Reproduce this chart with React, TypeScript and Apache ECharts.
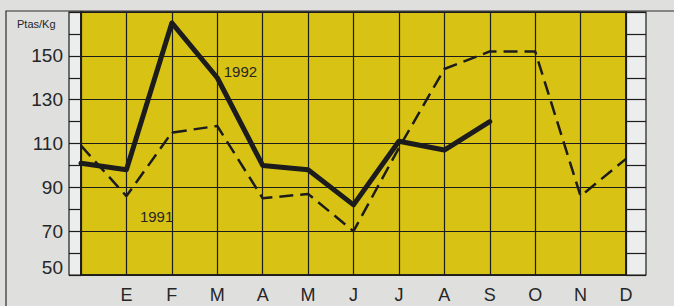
import React, { useEffect, useRef } from "react";
import * as echarts from "echarts";

// Categories: a leading blank slot (left edge), then months E..D
const months = ["", "E", "F", "M", "A", "M", "J", "J", "A", "S", "O", "N", "D"];
const series1992 = [101, 98, 165, 140, 100, 98, 82, 111, 107, 120, null, null, null];
const series1991 = [109, 86, 115, 118, 85, 87, 70, 108, 144, 152, 152, 86, 103];
const yTicks = { min: 50, max: 170, step: 20 };
const unitLabel = "Ptas/Kg";

const INK = "#1c1c1c";
const TEXT = "#262626";
const FONT = "Liberation Sans, Arial, Helvetica, sans-serif";

export default function App() {
  const ref = useRef<HTMLDivElement>(null);
  useEffect(() => {
    document.body.style.margin = "0";
    const chart = echarts.init(ref.current!, null, { renderer: "svg" });
    const gridLeft = 81;
    const gridRight = 48;
    const gridTop = 12;
    const gridBottom = 31;
    const W = 674;
    const H = 306;
    const plotRight = W - gridRight;
    const plotBottom = H - gridBottom;

    const data1992 = series1992.map((v, i) =>
      i === 3
        ? {
            value: v,
            label: {
              show: true,
              formatter: "1992",
              position: "right",
              offset: [1, -6],
              fontSize: 15,
              color: TEXT,
              fontFamily: FONT,
            },
          }
        : v
    );
    const data1991 = series1991.map((v, i) =>
      i === 1
        ? {
            value: v,
            label: {
              show: true,
              formatter: "1991",
              position: "right",
              offset: [8, 20],
              fontSize: 15,
              color: TEXT,
              fontFamily: FONT,
            },
          }
        : v
    );

    const option: any = {
      animation: false,
      backgroundColor: "#dfe0de",
      grid: {
        left: gridLeft,
        right: gridRight,
        top: gridTop,
        bottom: gridBottom,
        show: true,
        backgroundColor: "#d8c314",
        borderColor: INK,
        borderWidth: 1.5,
      },
      graphic: [
        {
          type: "rect",
          z: -5,
          shape: { x: 6, y: 11, width: 800, height: 400 },
          style: { fill: "none", stroke: "#2a2a2a", lineWidth: 1.2 },
        },
        {
          type: "rect",
          z: -4,
          shape: { x: 69, y: gridTop, width: gridLeft - 69, height: plotBottom - gridTop },
          style: { fill: "#eceeed", stroke: INK, lineWidth: 1.2 },
        },
        {
          type: "rect",
          z: -4,
          shape: { x: plotRight, y: gridTop, width: 646 - plotRight, height: plotBottom - gridTop },
          style: { fill: "#eceeed", stroke: INK, lineWidth: 1.2 },
        },
        {
          type: "text",
          x: 17,
          y: 24,
          style: {
            text: unitLabel,
            fontSize: 11,
            fontFamily: FONT,
            fill: TEXT,
            verticalAlign: "middle",
            align: "left",
          },
        },
      ],
      xAxis: {
        type: "category",
        data: months,
        boundaryGap: false,
        axisLine: { show: true, lineStyle: { color: INK, width: 1.5 } },
        axisTick: { show: false },
        axisLabel: {
          interval: 0,
          margin: 11,
          fontSize: 18,
          color: TEXT,
          fontFamily: FONT,
        },
        splitLine: { show: true, interval: 0, lineStyle: { color: INK, width: 1.2 } },
      },
      yAxis: [
        {
          type: "value",
          min: yTicks.min,
          max: yTicks.max,
          interval: yTicks.step,
          axisLine: { show: true, lineStyle: { color: INK, width: 1.5 } },
          axisTick: { show: true, inside: false, length: 12, lineStyle: { color: INK, width: 1.2 } },
          minorTick: { show: true, splitNumber: 2, length: 12, lineStyle: { color: INK, width: 1.2 } },
          axisLabel: {
            margin: 18,
            fontSize: 19,
            color: TEXT,
            fontFamily: FONT,
            formatter: (v: number) =>
              v === yTicks.max ? "" : v === yTicks.min ? "{b|" + v + "}" : String(v),
            rich: { b: { fontSize: 19, fontFamily: FONT, color: TEXT, padding: [0, 0, 16, 0] } },
          },
          splitLine: { show: true, lineStyle: { color: INK, width: 1.2 } },
        },
        {
          type: "value",
          position: "right",
          min: yTicks.min,
          max: yTicks.max,
          interval: yTicks.step,
          axisLine: { show: true, lineStyle: { color: INK, width: 1.5 } },
          axisTick: { show: true, inside: false, length: 20, lineStyle: { color: INK, width: 1.2 } },
          minorTick: { show: true, splitNumber: 2, length: 20, lineStyle: { color: INK, width: 1.2 } },
          axisLabel: { show: false },
          splitLine: { show: false },
        },
      ],
      series: [
        {
          name: "1991",
          type: "line",
          data: data1991,
          symbol: "circle",
          symbolSize: 1,
          showSymbol: true,
          itemStyle: { color: INK },
          lineStyle: { color: INK, width: 2.5, type: [14, 7] },
          z: 3,
        },
        {
          name: "1992",
          type: "line",
          data: data1992,
          symbol: "circle",
          symbolSize: 1,
          showSymbol: true,
          itemStyle: { color: INK },
          lineStyle: { color: INK, width: 5, cap: "round", join: "round" },
          z: 4,
        },
      ],
    };
    chart.setOption(option);
    return () => chart.dispose();
  }, []);
  return (
    <div
      ref={ref}
      style={{ width: 674, height: 306, position: "fixed", left: 0, top: 0 }}
    />
  );
}
